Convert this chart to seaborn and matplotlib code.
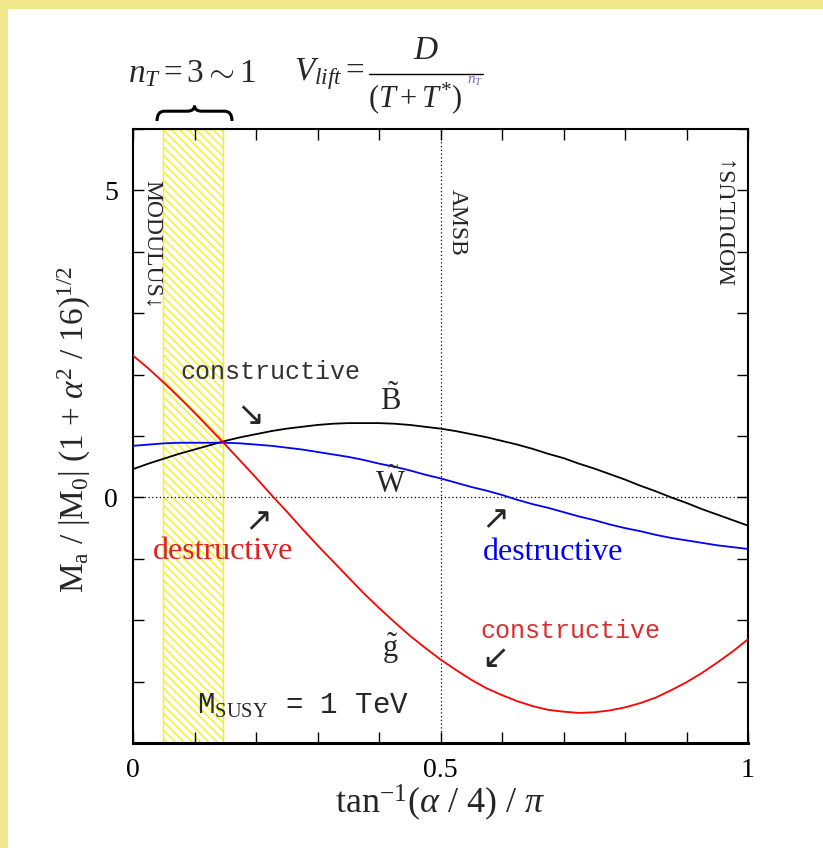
import numpy as np
import pandas as pd
import matplotlib
matplotlib.use("Agg")
import matplotlib.pyplot as plt
import seaborn as sns
from matplotlib.path import Path
from matplotlib.patches import PathPatch, Rectangle
from matplotlib.ticker import MultipleLocator, FuncFormatter

# mixing angle tan^-1(alpha/4)/pi
mix = [0.000, 0.025, 0.050, 0.075, 0.100, 0.125, 0.150, 0.175, 0.200, 0.225,
       0.250, 0.275, 0.300, 0.325, 0.350, 0.375, 0.400, 0.425, 0.450, 0.475,
       0.500, 0.525, 0.550, 0.575, 0.600, 0.625, 0.650, 0.675, 0.700, 0.725,
       0.750, 0.775, 0.800, 0.825, 0.850, 0.875, 0.900, 0.925, 0.950, 0.975, 1.000]
# normalised gaugino masses
bino = [0.46, 0.55, 0.63, 0.71, 0.78, 0.85, 0.92, 0.98, 1.03, 1.08,
        1.12, 1.15, 1.18, 1.20, 1.21, 1.21, 1.21, 1.20, 1.18, 1.15,
        1.12, 1.08, 1.03, 0.98, 0.92, 0.86, 0.79, 0.71, 0.64, 0.55,
        0.47, 0.38, 0.29, 0.19, 0.10, 0.00, -0.09, -0.19, -0.28, -0.37, -0.46]
wino = [0.84, 0.86, 0.88, 0.89, 0.89, 0.89, 0.89, 0.88, 0.86, 0.84,
        0.81, 0.78, 0.74, 0.70, 0.66, 0.61, 0.55, 0.50, 0.44, 0.37,
        0.31, 0.24, 0.17, 0.11, 0.04, -0.04, -0.11, -0.17, -0.24, -0.31,
        -0.37, -0.44, -0.50, -0.55, -0.61, -0.66, -0.70, -0.74, -0.78, -0.81, -0.84]
gluino = [2.31, 2.10, 1.87, 1.63, 1.38, 1.12, 0.86, 0.59, 0.32, 0.04,
          -0.23, -0.51, -0.78, -1.04, -1.30, -1.56, -1.80, -2.03, -2.25, -2.45,
          -2.64, -2.81, -2.97, -3.11, -3.22, -3.32, -3.40, -3.46, -3.49, -3.51,
          -3.50, -3.47, -3.42, -3.35, -3.26, -3.14, -3.01, -2.86, -2.69, -2.51, -2.31]
gauginos = ["B", "W", "g"]
line_colors = {"B": "black", "W": "#0000ff", "g": "#ff0000"}

# n_T = 3 ~ 1 window
band = [0.049, 0.146]

sns.set_style("ticks")
plt.rcParams.update({
    "font.family": ["Liberation Serif", "DejaVu Serif"],
    "mathtext.fontset": "custom",
    "mathtext.rm": "Liberation Serif",
    "mathtext.it": "Liberation Serif:italic",
    "mathtext.bf": "Liberation Serif:bold",
    "hatch.linewidth": 0.9,
})

fig = plt.figure(figsize=(8.23, 8.48), dpi=100, facecolor="white")
ax = fig.add_axes([133 / 823, 1 - 743 / 848, 615 / 823, 614 / 848])

# khaki page border
fig.add_artist(Rectangle((0, 0), 8 / 823, 1, transform=fig.transFigure,
                         color="#f0e68c", lw=0, zorder=-5))
fig.add_artist(Rectangle((0, 1 - 9 / 848), 1, 9 / 848, transform=fig.transFigure,
                         color="#f0e68c", lw=0, zorder=-5))

df = pd.DataFrame({
    "mix": mix * 3,
    "mass": bino + wino + gluino,
    "gaugino": [g for g in gauginos for _ in mix],
})

ax.axvspan(band[0], band[1], facecolor="none", edgecolor="#f8f000",
           hatch="\\\\\\\\", linewidth=1.0, zorder=0)
ax.axvline(0.5, color="black", lw=0.9, ls=(0, (1, 2)), zorder=1)
ax.axhline(0.0, color="black", lw=0.9, ls=(0, (1, 2)), zorder=1)

sns.lineplot(data=df, x="mix", y="mass", hue="gaugino", hue_order=gauginos,
             palette=line_colors, legend=False, ax=ax, linewidth=1.3,
             estimator=None, sort=False, zorder=3)

ax.set_xlim(0, 1)
ax.set_ylim(-4, 6)
ax.xaxis.set_major_locator(MultipleLocator(0.1))
ax.yaxis.set_major_locator(MultipleLocator(1))
xlab = {0: "0", 5: "0.5", 10: "1"}
ylab = {0: "0", 5: "5"}
ax.xaxis.set_major_formatter(FuncFormatter(lambda v, p: xlab.get(int(round(v * 10)), "")))
ax.yaxis.set_major_formatter(FuncFormatter(lambda v, p: ylab.get(int(round(v)), "")))
ax.tick_params(direction="in", top=True, right=True, length=8, width=1.0,
               labelsize=20, pad=11, colors="black")
for s in ax.spines.values():
    s.set_linewidth(1.5)
    s.set_color("black")
ax.spines["bottom"].set_linewidth(2.2)

ax.set_xlabel(r"tan$^{-1}$($\alpha$ / 4) / $\pi$", fontsize=26)
ax.xaxis.set_label_coords(0.5, -0.098)
ax.xaxis.label.set_va("center")
ax.set_ylabel(r"M$_\mathrm{a}$ / |M$_0$| (1 + $\alpha^2$ / 16)$^{1/2}$", fontsize=24)
ax.yaxis.set_label_coords(-0.095, 0.51)
ax.yaxis.label.set_va("center")

mono = ["Liberation Mono", "DejaVu Sans Mono"]
arrows = ["DejaVu Sans"]

ax.text(0.031, 4.12, "MODULUS\u2193", rotation=-90, ha="center", va="center", fontsize=17)
ax.text(0.971, 4.5, "MODULUS\u2193", rotation=90, ha="center", va="center", fontsize=17)
ax.text(0.528, 4.48, "AMSB", rotation=-90, ha="center", va="center", fontsize=17)

ax.text(0.224, 2.04, "constructive", family=mono, fontsize=18, color="#333333",
        ha="center", va="center")
ax.text(0.19, 1.34, "\u2198", family=arrows, fontsize=24, ha="center", va="center")
ax.text(0.203, -0.39, "\u2197", family=arrows, fontsize=24, ha="center", va="center")
ax.text(0.146, -0.88, "destructive", fontsize=23, color="#e02020", ha="center", va="center")

ax.text(0.418, 1.58, r"$\tilde{\mathrm{B}}$", fontsize=22, ha="center", va="center")
ax.text(0.418, 0.23, r"$\tilde{\mathrm{W}}$", fontsize=22, ha="center", va="center")
ax.text(0.418, -2.46, r"$\tilde{\mathrm{g}}$", fontsize=22, ha="center", va="center")

ax.text(0.589, -0.37, "\u2197", family=arrows, fontsize=24, ha="center", va="center")
ax.text(0.683, -0.90, "destructive", fontsize=23, color="#0000ff", ha="center", va="center")
ax.text(0.711, -2.17, "constructive", family=mono, fontsize=18, color="#d83030",
        ha="center", va="center")
ax.text(0.589, -2.62, "\u2199", family=arrows, fontsize=24, ha="center", va="center")

ax.text(0.104, -3.39, r"M$_{\mathrm{SUSY}}$ = 1 TeV", family=mono, fontsize=21,
        ha="left", va="center")

# lifting potential above the frame
ax.text(0.096, 6.9, r"$n_T = 3 \sim 1$", fontsize=24, ha="center", va="center", clip_on=False)
ax.text(0.378, 6.9, r"$V_{lift} =$", fontsize=24, ha="right", va="center", clip_on=False)
ax.text(0.476, 7.28, r"$D$", fontsize=24, ha="center", va="center", clip_on=False)
ax.plot([0.384, 0.569], [6.9, 6.9], color="black", lw=1.0, clip_on=False)
ax.text(0.459, 6.51, r"$(T+T^{*})$", fontsize=22, ha="center", va="center", clip_on=False)
ax.text(0.556, 6.77, r"$n_T$", fontsize=11, color="#8060c0", ha="center", va="center",
        clip_on=False)

# curly brace over the n_T window
x0, x1, xc = 0.039, 0.161, 0.100
yb, ym, yt, d = 6.13, 6.29, 6.38, 0.012
verts = [(x0, yb), (x0, ym), (x0 + d, ym), (xc - d, ym), (xc, ym), (xc, yt),
         (xc, ym), (xc + d, ym), (x1 - d, ym), (x1, ym), (x1, yb)]
codes = [Path.MOVETO, Path.CURVE3, Path.CURVE3, Path.LINETO, Path.CURVE3, Path.CURVE3,
         Path.CURVE3, Path.CURVE3, Path.LINETO, Path.CURVE3, Path.CURVE3]
ax.add_patch(PathPatch(Path(verts, codes), facecolor="none", edgecolor="black",
                       lw=2.2, clip_on=False))

fig.savefig("out.png", dpi=100, facecolor="white")
